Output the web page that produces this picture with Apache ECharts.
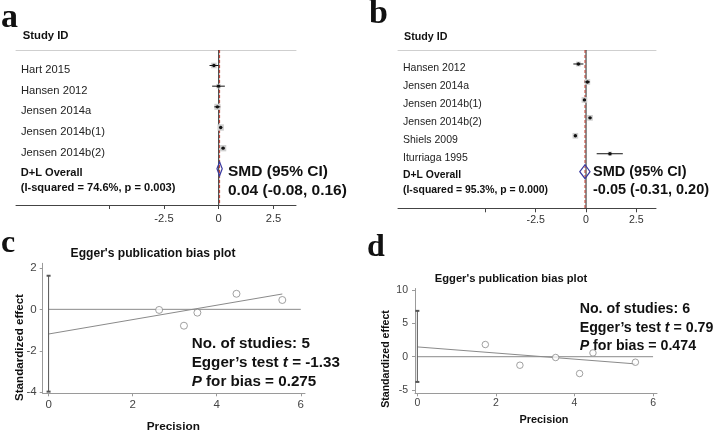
<!DOCTYPE html>
<html><head><meta charset="utf-8">
<script src="https://cdn.jsdelivr.net/npm/echarts@6/dist/echarts.min.js"></script>
<style>html,body{margin:0;padding:0;background:#fff}#c{width:718px;height:433px}</style>
</head><body><div id="c"></div>
<script>
// ---------- Panel a: forest plot ----------
const aStudies = ['Hart 2015', 'Hansen 2012', 'Jensen 2014a', 'Jensen 2014b(1)', 'Jensen 2014b(2)'];
const aSMD     = [-0.22, -0.01, -0.06, 0.09, 0.20];
const aLower   = [-0.42, -0.30, -0.20, 0.02, 0.12];
const aUpper   = [-0.02,  0.28,  0.07, 0.16, 0.28];
const aWeight  = [18, 12, 22, 24, 24];
const aOverall = [0.04, -0.08, 0.16];   // estimate, lower, upper
const aHetero  = '(I-squared = 74.6%, p = 0.003)';
const aSummary = ['SMD (95% CI)', '0.04 (-0.08, 0.16)'];

// ---------- Panel b: forest plot ----------
const bStudies = ['Hansen 2012', 'Jensen 2014a', 'Jensen 2014b(1)', 'Jensen 2014b(2)', 'Shiels 2009', 'Iturriaga 1995'];
const bSMD     = [-0.38, 0.07, -0.08, 0.20, -0.53, 1.19];
const bLower   = [-0.63, -0.07, -0.15, 0.13, -0.60, 0.53];
const bUpper   = [-0.13, 0.20, -0.01, 0.27, -0.46, 1.83];
const bWeight  = [14, 18, 19, 19, 19, 11];
const bOverall = [-0.05, -0.31, 0.20];
const bHetero  = '(I-squared = 95.3%, p = 0.000)';
const bSummary = ['SMD (95% CI)', '-0.05 (-0.31, 0.20)'];

const forestTicks  = [-5, -2.5, 0, 2.5];
const forestLabels = [-2.5, 0, 2.5];

// ---------- Panel c: Egger plot ----------
const cPrecision = [2.63, 3.22, 3.54, 4.47, 5.56];
const cStdEffect = [-0.03, -0.79, -0.16, 0.75, 0.45];
const cFitX = [0, 5.56];
const cFitY = [-1.19, 0.74];
const cBiasCI = [-3.97, 1.62];
const cXTicks = [0, 2, 4, 6];
const cYTicks = [-4, -2, 0, 2];
const cStats = ['5', '-1.33', '0.275'];

// ---------- Panel d: Egger plot ----------
const dPrecision = [1.73, 2.61, 3.52, 4.13, 4.47, 5.55];
const dStdEffect = [1.83, -1.28, -0.12, -2.53, 0.57, -0.83];
const dFitX = [0, 5.55];
const dFitY = [1.47, -1.08];
const dBiasCI = [-3.79, 6.89];
const dXTicks = [0, 2, 4, 6];
const dYTicks = [-5, 0, 5, 10];
const dStats = ['6', '0.79', '0.474'];

const SANS = '"Liberation Sans", Arial, sans-serif';
const SERIF = '"Liberation Serif", "Times New Roman", serif';

const chart = echarts.init(document.getElementById('c'), null, {renderer: 'canvas'});

function studyRenderer(labels, fontSize) {
  return function (params, api) {
    const row = api.value(0), est = api.value(1), lo = api.value(2), hi = api.value(3), w = api.value(4);
    const p = api.coord([est, row]);
    const pl = api.coord([lo, row]);
    const ph = api.coord([hi, row]);
    const cs = params.coordSys;
    const box = Math.sqrt(w) * 1.3;
    return {
      type: 'group',
      children: [
        {type: 'rect', shape: {x: p[0] - box / 2, y: p[1] - box / 2, width: box, height: box}, style: {fill: '#cfcfcf'}},
        {type: 'line', shape: {x1: pl[0], y1: p[1], x2: ph[0], y2: p[1]}, style: {stroke: '#111', lineWidth: 1}},
        {type: 'circle', shape: {cx: p[0], cy: p[1], r: 1.7}, style: {fill: '#111'}},
        {type: 'text', style: {text: labels[params.dataIndex], x: cs.x + 5, y: p[1] + 4.5,
          verticalAlign: 'middle', align: 'left', font: fontSize + 'px ' + SANS, fill: '#222'}}
      ]
    };
  };
}
function diamondRenderer(params, api) {
  const row = api.value(0), est = api.value(1), lo = api.value(2), hi = api.value(3);
  const c = api.coord([est, row]);
  const l = api.coord([lo, row]);
  const r = api.coord([hi, row]);
  const h = 7;
  return {
    type: 'polygon',
    shape: {points: [[l[0], c[1]], [c[0], c[1] - h], [r[0], c[1]], [c[0], c[1] + h]]},
    style: {fill: 'rgba(255,255,255,0)', stroke: '#3a3aa0', lineWidth: 1.2}
  };
}
function studyData(smd, lo, hi, w) {
  return smd.map((v, i) => [i + 1, v, lo[i], hi[i], w[i]]);
}

const aY = [0.25, 7.75];
const bY = [0.22, 9.04];

function forestXAxis(grid, min, max, margin, fs) {
  return {
    type: 'value', gridIndex: grid, min: min, max: max, position: 'bottom',
    axisLine: {show: true, onZero: false, lineStyle: {color: '#444', width: 1}},
    axisTick: {show: true, length: 4, customValues: forestTicks, lineStyle: {color: '#444'}},
    axisLabel: {show: true, customValues: forestLabels, margin: margin, color: '#333', fontSize: fs, fontFamily: SANS},
    splitLine: {show: false}
  };
}
function topAxis(grid, min, max) {
  return {
    type: 'value', gridIndex: grid, min: min, max: max, position: 'top',
    axisLine: {show: true, onZero: false, lineStyle: {color: '#cfcfcf', width: 1}},
    axisTick: {show: false}, axisLabel: {show: false}, splitLine: {show: false}
  };
}
function eggerXAxis(grid, min, max, ticks, margin, fs) {
  return {
    type: 'value', gridIndex: grid, min: min, max: max,
    axisLine: {show: true, onZero: false, lineStyle: {color: '#9a9a9a', width: 1}},
    axisTick: {show: true, length: 3, customValues: ticks, lineStyle: {color: '#9a9a9a'}},
    axisLabel: {show: true, customValues: ticks, margin: margin, color: '#444', fontSize: fs, fontFamily: SANS},
    splitLine: {show: false}
  };
}
function eggerYAxis(grid, min, max, ticks, margin, fs) {
  return {
    type: 'value', gridIndex: grid, min: min, max: max,
    axisLine: {show: true, onZero: false, lineStyle: {color: '#9a9a9a', width: 1}},
    axisTick: {show: true, length: 3, customValues: ticks, lineStyle: {color: '#9a9a9a'}},
    axisLabel: {show: true, customValues: ticks, margin: margin, color: '#444', fontSize: fs, fontFamily: SANS},
    splitLine: {show: false}
  };
}
function vline(xi, yi, x, yr, color, type) {
  return {type: 'line', xAxisIndex: xi, yAxisIndex: yi, data: [[x, yr[0]], [x, yr[1]]], symbol: 'none',
    lineStyle: {color: color, width: 1, type: type}, silent: true, z: 1};
}
function seg(xi, yi, pts, color, width, symbol, symbolSize) {
  return {type: 'line', xAxisIndex: xi, yAxisIndex: yi, data: pts, symbol: symbol || 'none', symbolSize: symbolSize,
    itemStyle: {color: color}, lineStyle: {color: color, width: width}, silent: true};
}
function txt(text, x, y, font, opts) {
  return Object.assign({type: 'text', x: x, y: y, silent: true,
    style: {text: text, x: 0, y: 0, font: font, fill: '#111', align: 'left', verticalAlign: 'middle'}}, opts || {});
}
function richStats(x, y, fs, stats, lh) {
  const b = 'bold ' + fs + 'px ' + SANS, bi = 'italic bold ' + fs + 'px ' + SANS;
  const rich = {n: {font: b, fill: '#111'}, i: {font: bi, fill: '#111'}};
  return [
    {type: 'text', x: x, y: y, silent: true, style: {text: '{n|No. of studies: ' + stats[0] + '}', rich: rich, align: 'left', verticalAlign: 'middle'}},
    {type: 'text', x: x, y: y + lh, silent: true, style: {text: '{n|Egger\u2019s test }{i|t}{n| = ' + stats[1] + '}', rich: rich, align: 'left', verticalAlign: 'middle'}},
    {type: 'text', x: x, y: y + 2 * lh, silent: true, style: {text: '{i|P}{n| for bias = ' + stats[2] + '}', rich: rich, align: 'left', verticalAlign: 'middle'}}
  ];
}

const option = {
  animation: false,
  backgroundColor: '#fff',
  grid: [
    {left: 16, top: 50, width: 280, height: 155},
    {left: 398, top: 50, width: 258, height: 158.3},
    {left: 42.7, top: 263.3, width: 262.3, height: 130},
    {left: 415, top: 288.5, width: 242, height: 104.8}
  ],
  xAxis: [
    forestXAxis(0, -9.26, 3.53, 8.4, 11.2),
    topAxis(0, -9.26, 3.53),
    forestXAxis(1, -9.35, 3.48, 6.4, 10.6),
    topAxis(1, -9.35, 3.48),
    eggerXAxis(2, -0.14, 6.1, cXTicks, 5.5, 11.5),
    eggerXAxis(3, -0.06, 6.1, dXTicks, 4, 10.5)
  ],
  yAxis: [
    {type: 'value', gridIndex: 0, min: aY[0], max: aY[1], inverse: true, show: false},
    {type: 'value', gridIndex: 1, min: bY[0], max: bY[1], inverse: true, show: false},
    eggerYAxis(2, -4.05, 2.22, cYTicks, 6, 11.5),
    eggerYAxis(3, -5.5, 10.25, dYTicks, 7, 10.5)
  ],
  series: [
    // panel a
    vline(0, 0, 0, aY, '#222', 'solid'),
    vline(0, 0, aOverall[0], aY, '#c0392b', [3, 2]),
    {type: 'custom', xAxisIndex: 0, yAxisIndex: 0, renderItem: studyRenderer(aStudies, 11.2),
      data: studyData(aSMD, aLower, aUpper, aWeight), encode: {x: [1, 2, 3], y: 0}, z: 3},
    {type: 'custom', xAxisIndex: 0, yAxisIndex: 0, renderItem: diamondRenderer,
      data: [[aStudies.length + 1, aOverall[0], aOverall[1], aOverall[2]]], encode: {x: [1, 2, 3], y: 0}, z: 3},
    // panel b
    vline(2, 1, 0, bY, '#222', 'solid'),
    vline(2, 1, bOverall[0], bY, '#c0392b', [3, 2]),
    {type: 'custom', xAxisIndex: 2, yAxisIndex: 1, renderItem: studyRenderer(bStudies, 10.5),
      data: studyData(bSMD, bLower, bUpper, bWeight), encode: {x: [1, 2, 3], y: 0}, z: 3},
    {type: 'custom', xAxisIndex: 2, yAxisIndex: 1, renderItem: diamondRenderer,
      data: [[bStudies.length + 1, bOverall[0], bOverall[1], bOverall[2]]], encode: {x: [1, 2, 3], y: 0}, z: 3},
    // panel c
    seg(4, 2, [[0, 0], [6, 0]], '#8a8a8a', 1),
    seg(4, 2, cFitX.map((x, i) => [x, cFitY[i]]), '#8a8a8a', 1),
    seg(4, 2, [[0, cBiasCI[0]], [0, cBiasCI[1]]], '#555', 1, 'rect', [4, 2]),
    {type: 'scatter', xAxisIndex: 4, yAxisIndex: 2, data: cPrecision.map((x, i) => [x, cStdEffect[i]]),
      symbol: 'circle', symbolSize: 7, itemStyle: {color: '#fff', borderColor: '#8a8a8a', borderWidth: 1}, z: 4},
    // panel d
    seg(5, 3, [[0, 0], [6, 0]], '#8a8a8a', 1),
    seg(5, 3, dFitX.map((x, i) => [x, dFitY[i]]), '#8a8a8a', 1),
    seg(5, 3, [[0, dBiasCI[0]], [0, dBiasCI[1]]], '#555', 1, 'rect', [4, 2]),
    {type: 'scatter', xAxisIndex: 5, yAxisIndex: 3, data: dPrecision.map((x, i) => [x, dStdEffect[i]]),
      symbol: 'circle', symbolSize: 6.5, itemStyle: {color: '#fff', borderColor: '#8a8a8a', borderWidth: 1}, z: 4}
  ],
  graphic: [].concat(
    [
      txt('a', 1, 18, 'bold 34px ' + SERIF),
      txt('b', 369, 14, 'bold 34px ' + SERIF),
      txt('c', 1, 244, 'bold 32px ' + SERIF),
      txt('d', 367, 247.5, 'bold 32px ' + SERIF),
      // forest headers & summary
      txt('Study ID', 22.7, 36, 'bold 11.3px ' + SANS),
      txt('D+L Overall', 20.7, 173, 'bold 11.1px ' + SANS),
      txt(aHetero, 20.7, 187.7, 'bold 11.1px ' + SANS),
      txt(aSummary[0], 228, 172, 'bold 15.5px ' + SANS),
      txt(aSummary[1], 228, 191, 'bold 15.5px ' + SANS),
      txt('Study ID', 404, 37, 'bold 10.7px ' + SANS),
      txt('D+L Overall', 403, 175, 'bold 10.4px ' + SANS),
      txt(bHetero, 403, 190, 'bold 10.4px ' + SANS),
      txt(bSummary[0], 593, 172.3, 'bold 14.5px ' + SANS),
      txt(bSummary[1], 593, 190, 'bold 14.5px ' + SANS),
      // Egger titles
      txt("Egger's publication bias plot", 153, 254, 'bold 12.1px ' + SANS, {style: {text: "Egger's publication bias plot", x: 0, y: 0, font: 'bold 12.1px ' + SANS, fill: '#111', align: 'center', verticalAlign: 'middle'}}),
      txt("Egger's publication bias plot", 511, 279, 'bold 11.2px ' + SANS, {style: {text: "Egger's publication bias plot", x: 0, y: 0, font: 'bold 11.2px ' + SANS, fill: '#111', align: 'center', verticalAlign: 'middle'}}),
      txt('Precision', 173.3, 427, '', {style: {text: 'Precision', x: 0, y: 0, font: 'bold 11.8px ' + SANS, fill: '#111', align: 'center', verticalAlign: 'middle'}}),
      txt('Precision', 544, 420, '', {style: {text: 'Precision', x: 0, y: 0, font: 'bold 10.9px ' + SANS, fill: '#111', align: 'center', verticalAlign: 'middle'}}),
      txt('Standardized effect', 20, 347.5, '', {rotation: Math.PI / 2, style: {text: 'Standardized effect', x: 0, y: 0, font: 'bold 11.6px ' + SANS, fill: '#111', align: 'center', verticalAlign: 'middle'}}),
      txt('Standardized effect', 386.3, 359, '', {rotation: Math.PI / 2, style: {text: 'Standardized effect', x: 0, y: 0, font: 'bold 10.6px ' + SANS, fill: '#111', align: 'center', verticalAlign: 'middle'}})
    ],
    richStats(191.7, 344, 15.2, cStats, 19),
    richStats(579.7, 309.3, 14.2, dStats, 18.4)
  )
};
chart.setOption(option);
</script>
</body></html>
